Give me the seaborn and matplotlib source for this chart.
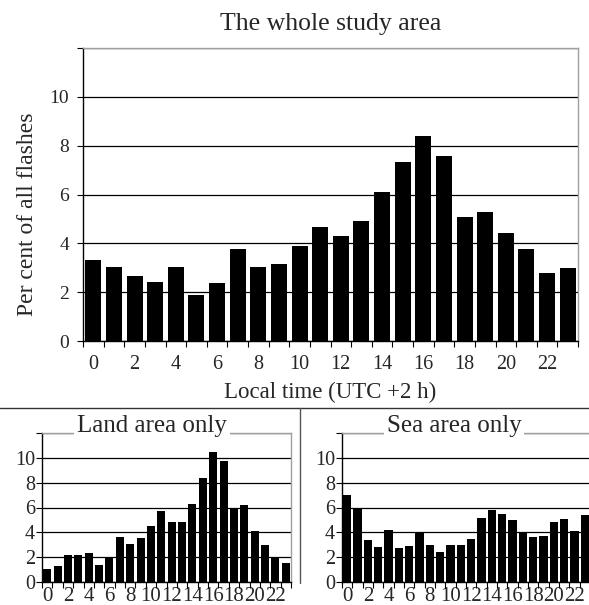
import numpy as np
import pandas as pd
import matplotlib
matplotlib.use("Agg")
import matplotlib.pyplot as plt
from matplotlib.lines import Line2D
import seaborn as sns

hours = list(range(24))
whole_area = [3.32, 3.05, 2.68, 2.40, 3.05, 1.89, 2.36, 3.77, 3.05, 3.14, 3.90, 4.68,
              4.32, 4.93, 6.12, 7.34, 8.40, 7.56, 5.08, 5.27, 4.42, 3.77, 2.79, 2.99]
land_only = [1.03, 1.27, 2.20, 2.16, 2.35, 1.40, 1.97, 3.60, 3.10, 3.54, 4.49, 5.70,
             4.81, 4.81, 6.30, 8.40, 10.46, 9.76, 5.95, 6.22, 4.10, 3.00, 2.05, 1.51]
sea_only = [7.03, 5.95, 3.40, 2.81, 4.19, 2.76, 2.89, 4.03, 2.95, 2.43, 2.95, 2.95,
            3.46, 5.14, 5.78, 5.51, 5.00, 4.03, 3.62, 3.70, 4.84, 5.08, 4.11, 5.43]
y_ticks = [0, 2, 4, 6, 8, 10, 12]
y_ticklabels = ["0", "2", "4", "6", "8", "10", ""]
x_ticks = list(range(0, 24, 2))
x_ticklabels = [str(h) for h in x_ticks]

main_title = "The whole study area"
land_title = "Land area only"
sea_title = "Sea area only"
x_label = "Local time (UTC +2 h)"
y_label = "Per cent of all flashes"

sns.set_style("white")
plt.rcParams["font.family"] = ["Liberation Serif", "DejaVu Serif"]

W, H = 589, 605
fig = plt.figure(figsize=(W / 100, H / 100), dpi=100)


def box(l, t, r, b):
    return [l / W, 1 - b / H, (r - l) / W, (b - t) / H]


ax_main = fig.add_axes(box(83, 48, 578, 341))
ax_land = fig.add_axes(box(42, 433, 291, 582))
ax_sea = fig.add_axes(box(342, 433, 590, 582))


def style(ax, vals, width, ytick_fs, xtick_fs, ypad, xpad):
    df = pd.DataFrame({"hour": hours, "value": vals})
    sns.barplot(data=df, x="hour", y="value", color="black", saturation=1,
                width=width, ax=ax, linewidth=0)
    ax.set_xlim(-0.5, 23.5)
    ax.set_ylim(0, 12)
    ax.set_yticks(y_ticks)
    ax.set_yticklabels(y_ticklabels)
    ax.set_xticks(x_ticks)
    ax.set_xticklabels(x_ticklabels)
    ax.set_xticks(np.arange(-0.5, 24, 1), minor=True)
    ax.tick_params(axis="x", which="major", length=0, pad=xpad, labelsize=xtick_fs)
    ax.tick_params(axis="x", which="minor", length=4, width=0.8, color="black",
                   direction="out", bottom=True)
    ax.tick_params(axis="y", which="major", length=4, width=0.8, color="black",
                   direction="out", left=True, pad=ypad, labelsize=ytick_fs)
    ax.yaxis.grid(True, color="black", linewidth=0.9)
    ax.xaxis.grid(False)
    ax.set_axisbelow(True)
    ax.set_xlabel("")
    ax.set_ylabel("")
    for s in ["left", "bottom"]:
        ax.spines[s].set_color("black")
        ax.spines[s].set_linewidth(1.0)
    for s in ["top", "right"]:
        ax.spines[s].set_color("#a0a0a0")
        ax.spines[s].set_linewidth(1.0)


style(ax_main, whole_area, 0.78, 14, 14.5, 6, 10)
style(ax_land, land_only, 0.78, 14.5, 15, 1, 3.5)
style(ax_sea, sea_only, 0.78, 14.5, 15, 1, 3.5)

ax_main.set_title(main_title, fontsize=18.5, pad=13)
ax_main.set_xlabel(x_label, fontsize=16.5, labelpad=6)
ax_main.set_ylabel(y_label, fontsize=17)
ax_main.yaxis.set_label_coords((38 - 83) / 495, (341 - 214) / 293)

fig.text(152 / W, 1 - 432 / H, land_title, ha="center", va="baseline", fontsize=18,
         bbox=dict(facecolor="white", edgecolor="none", pad=2), zorder=10)
fig.text(454 / W, 1 - 432 / H, sea_title, ha="center", va="baseline", fontsize=18,
         bbox=dict(facecolor="white", edgecolor="none", pad=2), zorder=10)

fig.add_artist(Line2D([0, 1], [1 - 408 / H, 1 - 408 / H], color="#333333", lw=1.0))
fig.add_artist(Line2D([300 / W, 300 / W], [1 - 408 / H, 1 - 583 / H], color="#555555", lw=1.0))

fig.savefig("out.png", dpi=100)
